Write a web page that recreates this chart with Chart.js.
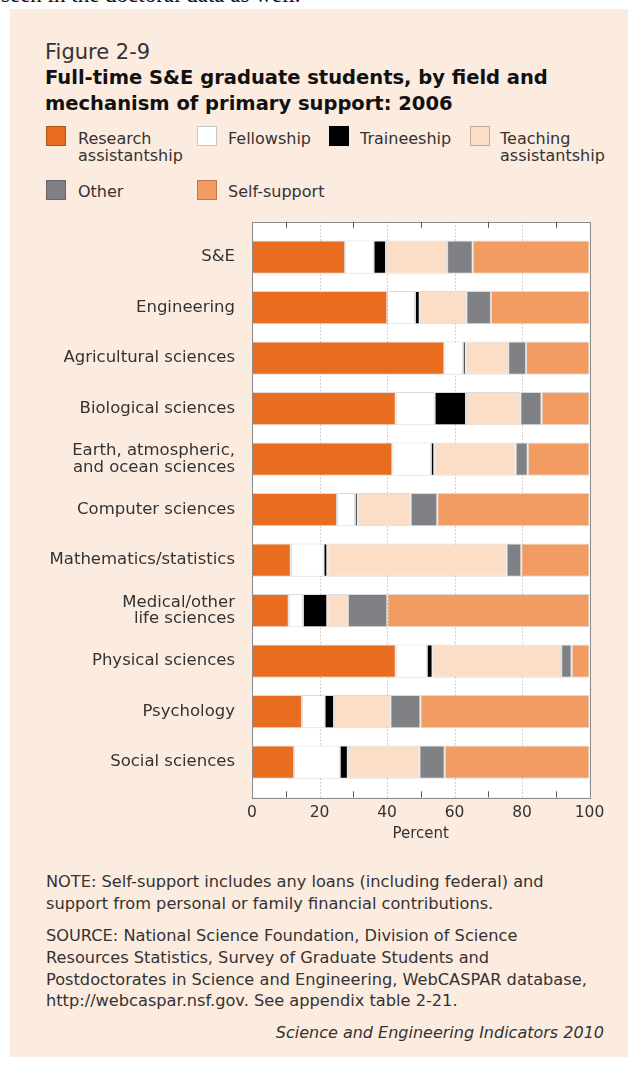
<!DOCTYPE html>
<html>
<head>
<meta charset="utf-8">
<script src="https://cdn.jsdelivr.net/npm/chart.js@4.4.1/dist/chart.umd.min.js"></script>
<style>
  body { margin: 0; width: 628px; height: 1065px; position: relative; overflow: hidden; background: #fff; font-family: "DejaVu Sans", sans-serif; color: #333; }
  .lead { position: absolute; left: 1px; top: -18px; font: 23px "Liberation Serif", serif; color: #111; white-space: nowrap; }
  .panel { position: absolute; left: 10px; top: 9px; right: 0; height: 1048px; background: #fcebdf; }
  .abs { position: absolute; white-space: nowrap; }
  .fig { left: 45px; top: 40px; font-size: 21px; line-height: 24px; color: #333; }
  .title { left: 45px; top: 65px; font-size: 19.5px; line-height: 26px; font-weight: bold; color: #111; }
  .sw { position: absolute; width: 20px; height: 20px; border: 1px solid rgba(0,0,0,0.22); box-sizing: border-box; }
  .lg { position: absolute; font-size: 16px; line-height: 16.5px; white-space: nowrap; }
  .note { left: 46px; font-size: 16.2px; line-height: 21.8px; }
  .credit { right: 24px; top: 1022px; font-size: 16px; line-height: 22px; font-style: italic; }
  #chartBox { position: absolute; left: 0; top: 200px; width: 628px; height: 660px; }
</style>
</head>
<body>
<div class="lead">seen in the doctoral data as well.</div>
<div class="panel"></div>
<div class="abs fig">Figure 2-9</div>
<div class="abs title">Full-time S&amp;E graduate students, by field and<br>mechanism of primary support: 2006</div>

<div class="sw" style="left:46px;top:126px;background:#e96d1f"></div>
<div class="lg" style="left:78px;top:131px">Research<br>assistantship</div>
<div class="sw" style="left:197px;top:126px;background:#ffffff"></div>
<div class="lg" style="left:228px;top:131px">Fellowship</div>
<div class="sw" style="left:329px;top:126px;background:#000000"></div>
<div class="lg" style="left:360px;top:131px">Traineeship</div>
<div class="sw" style="left:470px;top:126px;background:#fcdec6"></div>
<div class="lg" style="left:500px;top:131px">Teaching<br>assistantship</div>
<div class="sw" style="left:46px;top:180px;background:#808184"></div>
<div class="lg" style="left:78px;top:184px">Other</div>
<div class="sw" style="left:197px;top:180px;background:#f29b63"></div>
<div class="lg" style="left:228px;top:184px">Self-support</div>

<div id="chartBox"><canvas id="supportChart" width="628" height="660"></canvas></div>

<div class="abs note" style="top:871px">NOTE: Self-support includes any loans (including federal) and<br>support from personal or family financial contributions.</div>
<div class="abs note" style="top:925px">SOURCE: National Science Foundation, Division of Science<br>Resources Statistics, Survey of Graduate Students and<br>Postdoctorates in Science and Engineering, WebCASPAR database,<br>http://webcaspar.nsf.gov. See appendix table 2-21.</div>
<div class="abs credit">Science and Engineering Indicators 2010</div>

<script>
// --- dados (percent of full-time S&E graduate students) ---
const categories = [
  'S&E', 'Engineering', 'Agricultural sciences', 'Biological sciences',
  ['Earth, atmospheric,', 'and ocean sciences'], 'Computer sciences',
  'Mathematics/statistics', ['Medical/other', 'life sciences'],
  'Physical sciences', 'Psychology', 'Social sciences'
];
const researchAsst = [27.6, 40.1, 57.0, 42.6, 41.6, 25.2, 11.5, 10.9, 42.6, 14.8, 12.5];
const fellowship   = [8.4, 8.2, 5.5, 11.5, 11.4, 5.3, 9.7, 4.2, 9.2, 6.7, 13.5];
const traineeship  = [3.7, 1.4, 0.8, 9.3, 1.0, 0.8, 1.1, 7.2, 1.7, 2.8, 2.4];
const teachingAsst = [18.1, 13.8, 12.6, 16.1, 24.1, 15.7, 53.1, 6.1, 38.1, 16.7, 21.2];
const other        = [7.6, 7.3, 5.3, 6.3, 3.6, 7.9, 4.4, 11.7, 3.1, 8.9, 7.5];
const selfSupport  = [34.6, 29.2, 18.8, 14.2, 18.3, 45.1, 20.2, 59.9, 5.3, 50.1, 42.9];
const percentTicks = [0, 20, 40, 60, 80, 100];
const gridValues   = [20, 40, 60, 80];
const minorTicks   = [10, 30, 50, 70, 90];

// plot frame, dotted grid and inner ticks (frame sticks out 10px past the bars)
const framePlugin = {
  id: 'frame',
  beforeDatasetsDraw(chart) {
    const { ctx, chartArea: a, scales: { x } } = chart;
    ctx.save();
    ctx.fillStyle = '#fff';
    ctx.fillRect(a.left, a.top - 10, a.right - a.left, a.bottom - a.top + 20);
    ctx.strokeStyle = '#c4c4c4';
    ctx.lineWidth = 1;
    ctx.setLineDash([1.5, 2]);
    gridValues.forEach(v => {
      const px = Math.round(x.getPixelForValue(v)) + 0.5;
      ctx.beginPath();
      ctx.moveTo(px, a.top - 10);
      ctx.lineTo(px, a.bottom + 10);
      ctx.stroke();
    });
    ctx.restore();
  },
  afterDatasetsDraw(chart) {
    const { ctx, chartArea: a, scales: { x } } = chart;
    const top = a.top - 10, bottom = a.bottom + 10;
    ctx.save();
    ctx.strokeStyle = '#8a8a8a';
    ctx.lineWidth = 1;
    ctx.strokeRect(Math.round(a.left) + 0.5, Math.round(top) + 0.5, Math.round(a.right - a.left), Math.round(bottom - top));
    ctx.strokeStyle = '#555';
    minorTicks.forEach(v => {
      const px = Math.round(x.getPixelForValue(v)) + 0.5;
      ctx.beginPath();
      ctx.moveTo(px, top); ctx.lineTo(px, top + 6);
      ctx.moveTo(px, bottom); ctx.lineTo(px, bottom - 6);
      ctx.stroke();
    });
    ctx.restore();
  }
};

const ctx = document.getElementById('supportChart');
const edge = 'rgba(0,0,0,0.14)';
function series(label, data, color) {
  return { label, data, backgroundColor: color, borderColor: edge, borderWidth: 1, borderSkipped: false };
}

new Chart(ctx, {
  type: 'bar',
  data: {
    labels: categories,
    datasets: [
      series('Research assistantship', researchAsst, '#e96d1f'),
      series('Fellowship', fellowship, '#ffffff'),
      series('Traineeship', traineeship, '#000000'),
      series('Teaching assistantship', teachingAsst, '#fcdec6'),
      series('Other', other, '#808184'),
      series('Self-support', selfSupport, '#f29b63')
    ]
  },
  options: {
    indexAxis: 'y',
    responsive: false,
    animation: false,
    layout: { padding: { top: 31.8, right: 38.5, left: 0, bottom: 0 } },
    datasets: { bar: { categoryPercentage: 1, barPercentage: 0.66 } },
    plugins: { legend: { display: false }, tooltip: { enabled: false } },
    scales: {
      x: {
        stacked: true,
        min: 0,
        max: 100,
        afterBuildTicks: s => { s.ticks = percentTicks.map(v => ({ value: v })); },
        afterFit: s => { s.height = 72.7; },
        grid: { display: false, drawTicks: false },
        border: { display: false },
        ticks: { padding: 16, color: '#333', font: { family: 'DejaVu Sans', size: 15.5, lineHeight: 1.2 } },
        title: {
          display: true, text: 'Percent', color: '#333',
          font: { family: 'DejaVu Sans', size: 15, lineHeight: 1.2 },
          padding: { top: 0, bottom: 16.5 }
        }
      },
      y: {
        stacked: true,
        afterFit: s => { s.width = 252; },
        grid: { display: false, drawTicks: false },
        border: { display: false },
        ticks: { padding: 17, color: '#333', font: { family: 'DejaVu Sans', size: 16.5, lineHeight: '16.5px' } }
      }
    }
  },
  plugins: [framePlugin]
});
</script>
</body>
</html>
